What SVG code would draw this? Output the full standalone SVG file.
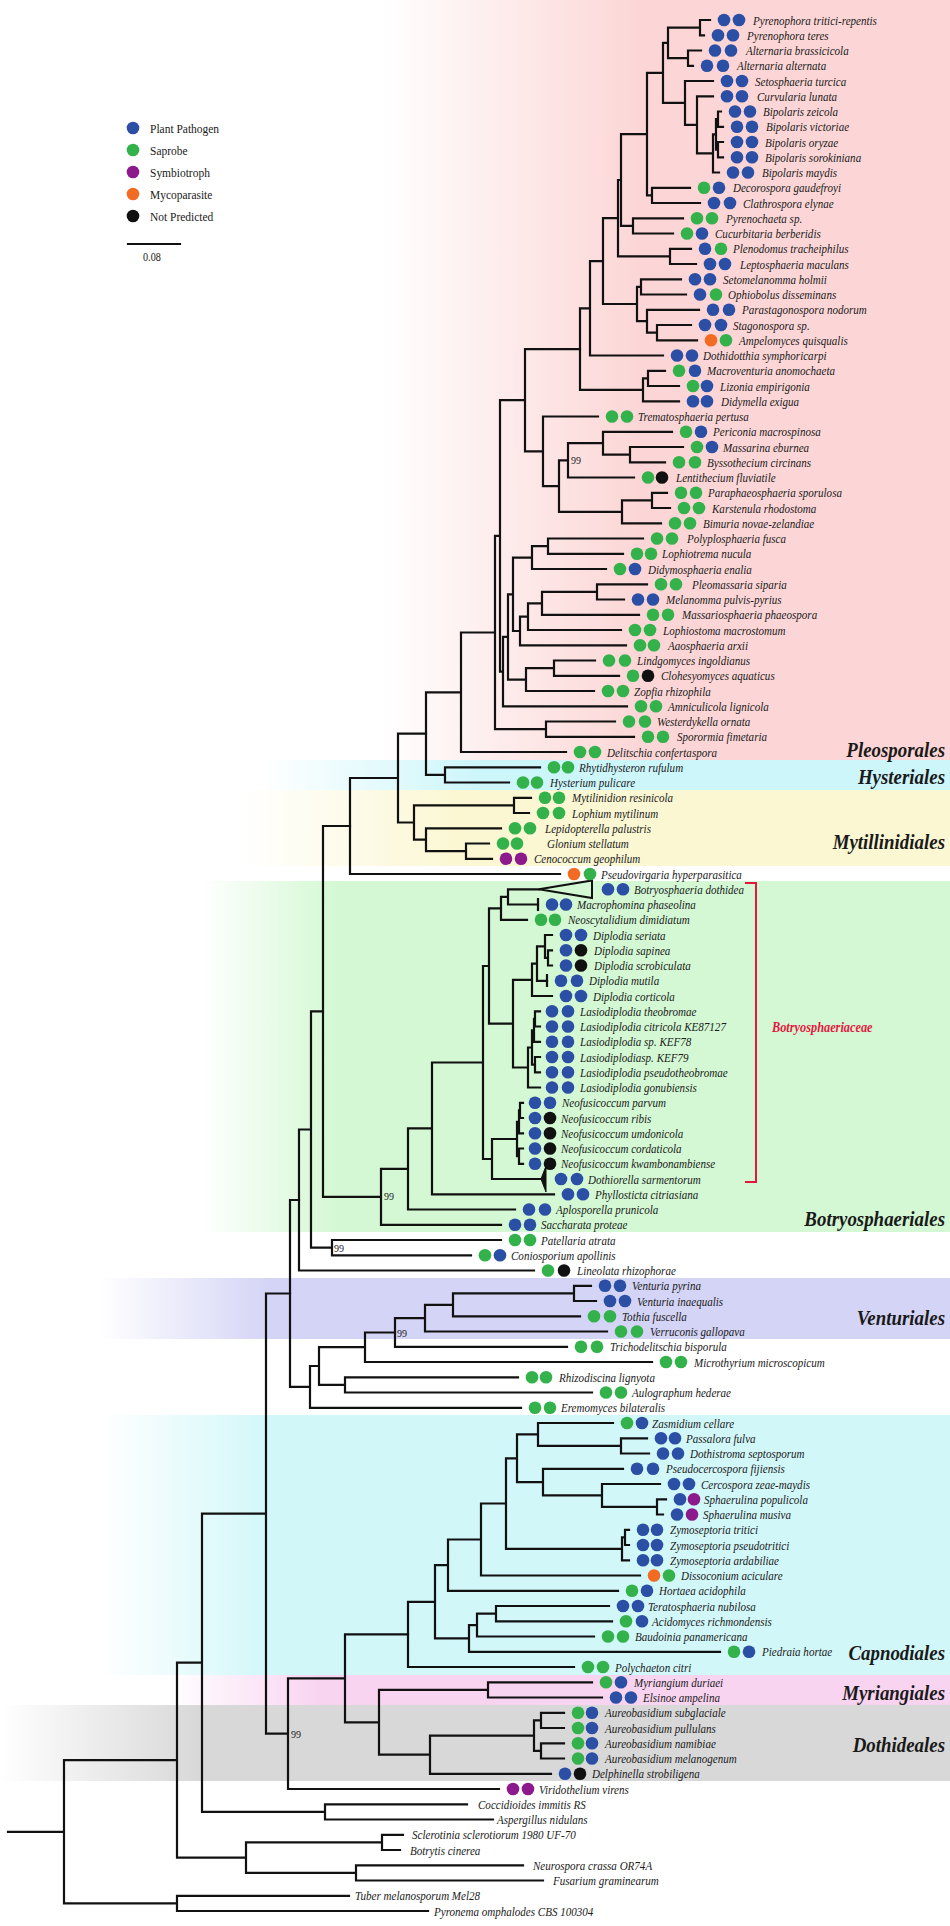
<svg xmlns="http://www.w3.org/2000/svg" width="950" height="1926" viewBox="0 0 950 1926">
<defs>
<style>
.br{fill:none;stroke:#111;stroke-width:2.2;stroke-linecap:square;stroke-linejoin:miter}
.t{font-family:"Liberation Serif","Times New Roman",serif;font-style:italic;font-size:13px;fill:#1a1a1a}
.bs{font-family:"Liberation Serif","Times New Roman",serif;font-size:10px;fill:#222}
.cl{font-family:"Liberation Serif","Times New Roman",serif;font-style:italic;font-weight:bold;font-size:21px;fill:#1a1a1a}
.lg{font-family:"Liberation Serif","Times New Roman",serif;font-size:13.5px;fill:#1a1a1a}
.b{fill:#2c4fa6}.g{fill:#33b24b}.p{fill:#8c1a8c}.o{fill:#f26b22}.k{fill:#111}
</style>
<linearGradient id="gP" gradientUnits="userSpaceOnUse" x1="380" y1="0" x2="640" y2="0"><stop offset="0" stop-color="#fcd6d6" stop-opacity="0"/><stop offset="1" stop-color="#fcd6d6"/></linearGradient>
<linearGradient id="gH" gradientUnits="userSpaceOnUse" x1="260" y1="0" x2="480" y2="0"><stop offset="0" stop-color="#cdf6fa" stop-opacity="0"/><stop offset="1" stop-color="#cdf6fa"/></linearGradient>
<linearGradient id="gM" gradientUnits="userSpaceOnUse" x1="240" y1="0" x2="460" y2="0"><stop offset="0" stop-color="#fbf7d3" stop-opacity="0"/><stop offset="1" stop-color="#fbf7d3"/></linearGradient>
<linearGradient id="gB" gradientUnits="userSpaceOnUse" x1="200" y1="0" x2="340" y2="0"><stop offset="0" stop-color="#d3f8d3" stop-opacity="0"/><stop offset="1" stop-color="#d3f8d3"/></linearGradient>
<linearGradient id="gV" gradientUnits="userSpaceOnUse" x1="100" y1="0" x2="270" y2="0"><stop offset="0" stop-color="#d4d4f6" stop-opacity="0"/><stop offset="1" stop-color="#d4d4f6"/></linearGradient>
<linearGradient id="gC" gradientUnits="userSpaceOnUse" x1="100" y1="0" x2="270" y2="0"><stop offset="0" stop-color="#d2f7f9" stop-opacity="0"/><stop offset="1" stop-color="#d2f7f9"/></linearGradient>
<linearGradient id="gY" gradientUnits="userSpaceOnUse" x1="170" y1="0" x2="320" y2="0"><stop offset="0" stop-color="#f9d4f1" stop-opacity="0"/><stop offset="1" stop-color="#f9d4f1"/></linearGradient>
<linearGradient id="gD" gradientUnits="userSpaceOnUse" x1="0" y1="0" x2="200" y2="0"><stop offset="0" stop-color="#d8d8d8" stop-opacity="0"/><stop offset="1" stop-color="#d8d8d8"/></linearGradient>
</defs>
<rect width="950" height="1926" fill="#fff"/>
<g id="bands">
<rect x="0" y="0" width="950" height="760" fill="url(#gP)"/>
<rect x="0" y="760" width="950" height="30" fill="url(#gH)"/>
<rect x="0" y="790" width="950" height="76" fill="url(#gM)"/>
<rect x="0" y="881" width="950" height="351" fill="url(#gB)"/>
<rect x="0" y="1278" width="950" height="61" fill="url(#gV)"/>
<rect x="0" y="1415" width="950" height="260" fill="url(#gC)"/>
<rect x="0" y="1675" width="950" height="30" fill="url(#gY)"/>
<rect x="0" y="1705" width="950" height="76" fill="url(#gD)"/>
</g>
<g id="legend">
<circle class="b" cx="133" cy="128" r="6.3"/><text class="lg" transform="translate(150 132.5) scale(.85 1)">Plant Pathogen</text>
<circle class="g" cx="133" cy="150" r="6.3"/><text class="lg" transform="translate(150 154.5) scale(.85 1)">Saprobe</text>
<circle class="p" cx="133" cy="172" r="6.3"/><text class="lg" transform="translate(150 176.5) scale(.85 1)">Symbiotroph</text>
<circle class="o" cx="133" cy="194" r="6.3"/><text class="lg" transform="translate(150 198.5) scale(.85 1)">Mycoparasite</text>
<circle class="k" cx="133" cy="216" r="6.3"/><text class="lg" transform="translate(150 220.5) scale(.85 1)">Not Predicted</text>
<path class="br" d="M128 244H180"/>
<text class="lg" transform="translate(143 261) scale(.85 1)" style="font-size:12px">0.08</text>
</g>
<g id="connectors">
<path class="br" d="M710 20H700V35.3H704 M701 50.5H688V65.8H693 M700 27.6H668V58.1H688 M721 111.5H718V126.8H723 M723 142H718V157.3H723 M718 119.1H716V149.6H718 M716 134.4H713V172.5H719 M713 96.3H697V153.4H713 M713 81H685V124.8H697 M668 42.9H663V102.9H685 M690 187.8H652V203H700 M663 72.9H647V195.4H652 M683 218.3H633V233.5H673 M647 134.1H621V225.9H633 M691 248.8H670V264H696 M621 180H618V256.4H670 M681 279.3H641V294.5H686 M691 325H657V340.3H697 M699 309.8H647V332.6H657 M641 286.9H637V321.2H647 M618 218.2H603V304H637 M603 261.1H590V355.5H663 M665 370.8H648V386H679 M648 378.4H643V401.3H679 M590 308.3H580V389.8H643"/>
<path class="br" d="M683 447H630V462.3H665 M672 431.8H603V454.6H630 M603 443.2H568V477.5H634 M667 492.8H652V508H670 M652 500.4H622V523.3H661 M568 460.3H559V511.8H622 M598 416.5H543V486.1H559 M580 349.1H525V451.3H543 M643 538.5H548V553.8H623 M548 546.1H532V569H606 M647 584.3H597V599.5H624 M597 591.9H542V614.8H639 M542 603.3H528V630H621 M528 616.7H520V645.3H626 M532 557.6H513V631H520 M595 660.5H554V675.8H619 M554 668.1H526V691H594 M513 594.3H508V679.6H526 M508 636.9H503V706.3H627 M525 400.2H500V671.6H503 M615 721.5H546V736.8H634 M500 535.9H495V729.1H546 M495 632.5H461V752H566 M540 767.3H445V782.5H509 M461 692.3H426V774.9H445"/>
<path class="br" d="M531 797.8H514V813H529 M489 843.5H466V858.8H492 M501 828.3H426V851.1H466 M514 805.4H414V839.7H426 M426 733.6H398V822.5H414 M398 778H350V874H560"/>
<path class="br" d="M539 889.3H508V904.5H538 M508 896.9H501V919.8H527 M552 950.3H548V965.5H552 M552 935H545V957.9H548 M545 946.4H537V980.8H547 M537 963.6H532V996H552 M540 1011.3H535V1026.5H540 M535 1018.9H534V1041.8H540 M540 1057H535V1072.3H540 M534 1030.3H532V1064.6H535 M532 1047.5H528V1087.5H540 M532 979.8H513V1067.5H528 M501 908.3H489V1023.6H513 M523 1102.8H520V1118H523 M520 1110.4H519V1133.3H523 M523 1148.5H519V1163.8H523 M519 1121.8H517V1156.1H519 M517 1139H492V1179H543 M489 966H483V1159H492 M483 1062.5H432V1194.3H554 M432 1128.4H408V1209.5H515 M408 1168.9H381V1224.8H501 M350 826H323V1196.8H381 M501 1240H332V1255.3H471 M323 1011.4H311V1247.6H332 M311 1129.5H299V1270.5H534"/>
<path class="br" d="M538 899V910 M547 975V986"/>
<polygon points="539,889.3 592,880.5 592,898" fill="none" stroke="#111" stroke-width="2"/>
<polygon points="541,1179 546,1166 546,1192" fill="#111" stroke="#111" stroke-width="1"/>
<path class="br" d="M591 1285.8H574V1301H596 M574 1293.4H453V1316.3H580 M453 1304.8H425V1331.5H607 M425 1318.2H395V1346.8H567 M395 1332.5H365V1362H652 M518 1377.3H345V1392.5H592 M365 1347.2H319V1384.9H345 M319 1366H310V1407.8H521 M299 1200H290V1386.9H310"/>
<path class="br" d="M647 1438.3H621V1453.5H649 M613 1423H538V1445.9H621 M666 1499.3H657V1514.5H663 M660 1484H602V1506.9H657 M623 1468.8H543V1495.4H602 M538 1434.4H517V1482.1H543 M629 1529.8H625V1545H629 M625 1537.4H622V1560.3H629 M517 1458.3H506V1548.8H622 M506 1503.5H481V1575.5H640 M481 1539.5H448V1590.8H618 M609 1606H496V1621.3H612 M496 1613.6H477V1636.5H594 M477 1625.1H469V1651.8H720 M448 1565.1H435V1638.4H469 M435 1601.8H408V1667H574"/>
<path class="br" d="M592 1682.3H488V1697.5H602 M564 1712.8H541V1728H564 M564 1743.3H541V1758.5H564 M541 1720.4H534V1750.9H541 M534 1735.6H430V1773.8H551 M488 1689.9H379V1754.7H430 M408 1634.4H345V1722.3H379 M345 1678.3H288V1789H499 M290 1293.5H266V1733.7H288 M467 1804.3H325V1819.5H493 M266 1513.6H202V1811.9H325 M403 1834.8H382V1850H400 M523 1865.3H356V1880.5H543 M382 1842.4H246V1872.9H356 M202 1662.7H177V1857.6H246 M349 1895.8H177V1911H428 M177 1760.2H64V1903.4H177 M8 1831.8H64"/>
<text class="bs" x="571" y="464">99</text>
<text class="bs" x="384" y="1200">99</text>
<text class="bs" x="334" y="1252">99</text>
<text class="bs" x="397" y="1337">99</text>
<text class="bs" x="291" y="1738">99</text>
</g>
<g id="bracket">
<path d="M745 883H756V1182H745" fill="none" stroke="#e5173f" stroke-width="2"/>
<text class="cl" transform="translate(772 1032) scale(.85 1)" style="fill:#e5173f;font-size:14.5px">Botryosphaeriaceae</text>
</g>
<g id="clades">
<text class="cl" text-anchor="end" transform="translate(945 757) scale(.9 1)">Pleosporales</text>
<text class="cl" text-anchor="end" transform="translate(945 784) scale(.9 1)">Hysteriales</text>
<text class="cl" text-anchor="end" transform="translate(945 849) scale(.9 1)">Mytillinidiales</text>
<text class="cl" text-anchor="end" transform="translate(945 1226) scale(.9 1)">Botryosphaeriales</text>
<text class="cl" text-anchor="end" transform="translate(945 1325) scale(.9 1)">Venturiales</text>
<text class="cl" text-anchor="end" transform="translate(945 1660) scale(.9 1)">Capnodiales</text>
<text class="cl" text-anchor="end" transform="translate(945 1700) scale(.9 1)">Myriangiales</text>
<text class="cl" text-anchor="end" transform="translate(945 1752) scale(.9 1)">Dothideales</text>
</g>
<g id="leaves">
<g id="n1"><circle class="b" cx="724" cy="20" r="6.3"/><circle class="b" cx="739" cy="20" r="6.3"/><text class="t" transform="translate(753 24.5) scale(.85 1)">Pyrenophora tritici-repentis</text></g>
<g id="n2"><circle class="b" cx="718" cy="35.25" r="6.3"/><circle class="b" cx="733" cy="35.25" r="6.3"/><text class="t" transform="translate(747 39.75) scale(.85 1)">Pyrenophora teres</text></g>
<g id="n3"><circle class="b" cx="715" cy="50.5" r="6.3"/><circle class="b" cx="731" cy="50.5" r="6.3"/><text class="t" transform="translate(746 55) scale(.85 1)">Alternaria brassicicola</text></g>
<g id="n4"><circle class="b" cx="707" cy="65.75" r="6.3"/><circle class="b" cx="723" cy="65.75" r="6.3"/><text class="t" transform="translate(737 70.25) scale(.85 1)">Alternaria alternata</text></g>
<g id="n5"><circle class="b" cx="727" cy="81" r="6.3"/><circle class="b" cx="742" cy="81" r="6.3"/><text class="t" transform="translate(755 85.5) scale(.85 1)">Setosphaeria turcica</text></g>
<g id="n6"><circle class="b" cx="727" cy="96.25" r="6.3"/><circle class="b" cx="742" cy="96.25" r="6.3"/><text class="t" transform="translate(757 100.75) scale(.85 1)">Curvularia lunata</text></g>
<g id="n7"><circle class="b" cx="735" cy="111.5" r="6.3"/><circle class="b" cx="750" cy="111.5" r="6.3"/><text class="t" transform="translate(763 116) scale(.85 1)">Bipolaris zeicola</text></g>
<g id="n8"><circle class="b" cx="737" cy="126.75" r="6.3"/><circle class="b" cx="752" cy="126.75" r="6.3"/><text class="t" transform="translate(766 131.25) scale(.85 1)">Bipolaris victoriae</text></g>
<g id="n9"><circle class="b" cx="737" cy="142" r="6.3"/><circle class="b" cx="752" cy="142" r="6.3"/><text class="t" transform="translate(765 146.5) scale(.85 1)">Bipolaris oryzae</text></g>
<g id="n10"><circle class="b" cx="737" cy="157.25" r="6.3"/><circle class="b" cx="752" cy="157.25" r="6.3"/><text class="t" transform="translate(765 161.75) scale(.85 1)">Bipolaris sorokiniana</text></g>
<g id="n11"><circle class="b" cx="733" cy="172.5" r="6.3"/><circle class="b" cx="748" cy="172.5" r="6.3"/><text class="t" transform="translate(762 177) scale(.85 1)">Bipolaris maydis</text></g>
<g id="n12"><circle class="g" cx="704" cy="187.75" r="6.3"/><circle class="b" cx="719" cy="187.75" r="6.3"/><text class="t" transform="translate(733 192.25) scale(.85 1)">Decorospora gaudefroyi</text></g>
<g id="n13"><circle class="b" cx="714" cy="203" r="6.3"/><circle class="b" cx="730" cy="203" r="6.3"/><text class="t" transform="translate(743 207.5) scale(.85 1)">Clathrospora elynae</text></g>
<g id="n14"><circle class="g" cx="697" cy="218.25" r="6.3"/><circle class="g" cx="712" cy="218.25" r="6.3"/><text class="t" transform="translate(726 222.75) scale(.85 1)">Pyrenochaeta sp.</text></g>
<g id="n15"><circle class="g" cx="687" cy="233.5" r="6.3"/><circle class="b" cx="702" cy="233.5" r="6.3"/><text class="t" transform="translate(715 238) scale(.85 1)">Cucurbitaria berberidis</text></g>
<g id="n16"><circle class="b" cx="705" cy="248.75" r="6.3"/><circle class="g" cx="721" cy="248.75" r="6.3"/><text class="t" transform="translate(733 253.25) scale(.85 1)">Plenodomus tracheiphilus</text></g>
<g id="n17"><circle class="b" cx="710" cy="264" r="6.3"/><circle class="b" cx="725" cy="264" r="6.3"/><text class="t" transform="translate(740 268.5) scale(.85 1)">Leptosphaeria maculans</text></g>
<g id="n18"><circle class="b" cx="695" cy="279.25" r="6.3"/><circle class="b" cx="710" cy="279.25" r="6.3"/><text class="t" transform="translate(723 283.75) scale(.85 1)">Setomelanomma holmii</text></g>
<g id="n19"><circle class="b" cx="700" cy="294.5" r="6.3"/><circle class="g" cx="716" cy="294.5" r="6.3"/><text class="t" transform="translate(728 299) scale(.85 1)">Ophiobolus disseminans</text></g>
<g id="n20"><circle class="b" cx="713" cy="309.75" r="6.3"/><circle class="b" cx="729" cy="309.75" r="6.3"/><text class="t" transform="translate(742 314.25) scale(.85 1)">Parastagonospora nodorum</text></g>
<g id="n21"><circle class="b" cx="705" cy="325" r="6.3"/><circle class="b" cx="721" cy="325" r="6.3"/><text class="t" transform="translate(733 329.5) scale(.85 1)">Stagonospora sp.</text></g>
<g id="n22"><circle class="o" cx="711" cy="340.25" r="6.3"/><circle class="g" cx="726" cy="340.25" r="6.3"/><text class="t" transform="translate(739 344.75) scale(.85 1)">Ampelomyces quisqualis</text></g>
<g id="n23"><circle class="b" cx="677" cy="355.5" r="6.3"/><circle class="b" cx="692" cy="355.5" r="6.3"/><text class="t" transform="translate(703 360) scale(.85 1)">Dothidotthia symphoricarpi</text></g>
<g id="n24"><circle class="g" cx="679" cy="370.75" r="6.3"/><circle class="b" cx="695" cy="370.75" r="6.3"/><text class="t" transform="translate(707 375.25) scale(.85 1)">Macroventuria anomochaeta</text></g>
<g id="n25"><circle class="g" cx="693" cy="386" r="6.3"/><circle class="b" cx="707" cy="386" r="6.3"/><text class="t" transform="translate(720 390.5) scale(.85 1)">Lizonia empirigonia</text></g>
<g id="n26"><circle class="b" cx="693" cy="401.25" r="6.3"/><circle class="b" cx="707" cy="401.25" r="6.3"/><text class="t" transform="translate(721 405.75) scale(.85 1)">Didymella exigua</text></g>
<g id="n27"><circle class="g" cx="612" cy="416.5" r="6.3"/><circle class="g" cx="627" cy="416.5" r="6.3"/><text class="t" transform="translate(638 421) scale(.85 1)">Trematosphaeria pertusa</text></g>
<g id="n28"><circle class="g" cx="686" cy="431.75" r="6.3"/><circle class="b" cx="701" cy="431.75" r="6.3"/><text class="t" transform="translate(713 436.25) scale(.85 1)">Periconia macrospinosa</text></g>
<g id="n29"><circle class="g" cx="697" cy="447" r="6.3"/><circle class="b" cx="712" cy="447" r="6.3"/><text class="t" transform="translate(723 451.5) scale(.85 1)">Massarina eburnea</text></g>
<g id="n30"><circle class="g" cx="679" cy="462.25" r="6.3"/><circle class="g" cx="695" cy="462.25" r="6.3"/><text class="t" transform="translate(707 466.75) scale(.85 1)">Byssothecium circinans</text></g>
<g id="n31"><circle class="g" cx="648" cy="477.5" r="6.3"/><circle class="k" cx="662" cy="477.5" r="6.3"/><text class="t" transform="translate(676 482) scale(.85 1)">Lentithecium fluviatile</text></g>
<g id="n32"><circle class="g" cx="681" cy="492.75" r="6.3"/><circle class="g" cx="696" cy="492.75" r="6.3"/><text class="t" transform="translate(708 497.25) scale(.85 1)">Paraphaeosphaeria sporulosa</text></g>
<g id="n33"><circle class="g" cx="684" cy="508" r="6.3"/><circle class="g" cx="699" cy="508" r="6.3"/><text class="t" transform="translate(712 512.5) scale(.85 1)">Karstenula rhodostoma</text></g>
<g id="n34"><circle class="g" cx="675" cy="523.25" r="6.3"/><circle class="g" cx="690" cy="523.25" r="6.3"/><text class="t" transform="translate(703 527.75) scale(.85 1)">Bimuria novae-zelandiae</text></g>
<g id="n35"><circle class="g" cx="657" cy="538.5" r="6.3"/><circle class="g" cx="672" cy="538.5" r="6.3"/><text class="t" transform="translate(687 543) scale(.85 1)">Polyplosphaeria fusca</text></g>
<g id="n36"><circle class="g" cx="637" cy="553.75" r="6.3"/><circle class="g" cx="651" cy="553.75" r="6.3"/><text class="t" transform="translate(662 558.25) scale(.85 1)">Lophiotrema nucula</text></g>
<g id="n37"><circle class="g" cx="620" cy="569" r="6.3"/><circle class="b" cx="635" cy="569" r="6.3"/><text class="t" transform="translate(648 573.5) scale(.85 1)">Didymosphaeria enalia</text></g>
<g id="n38"><circle class="g" cx="661" cy="584.25" r="6.3"/><circle class="g" cx="676" cy="584.25" r="6.3"/><text class="t" transform="translate(692 588.75) scale(.85 1)">Pleomassaria siparia</text></g>
<g id="n39"><circle class="b" cx="638" cy="599.5" r="6.3"/><circle class="b" cx="653" cy="599.5" r="6.3"/><text class="t" transform="translate(666 604) scale(.85 1)">Melanomma pulvis-pyrius</text></g>
<g id="n40"><circle class="g" cx="653" cy="614.75" r="6.3"/><circle class="g" cx="668" cy="614.75" r="6.3"/><text class="t" transform="translate(682 619.25) scale(.85 1)">Massariosphaeria phaeospora</text></g>
<g id="n41"><circle class="g" cx="635" cy="630" r="6.3"/><circle class="g" cx="650" cy="630" r="6.3"/><text class="t" transform="translate(663 634.5) scale(.85 1)">Lophiostoma macrostomum</text></g>
<g id="n42"><circle class="g" cx="640" cy="645.25" r="6.3"/><circle class="g" cx="654" cy="645.25" r="6.3"/><text class="t" transform="translate(668 649.75) scale(.85 1)">Aaosphaeria arxii</text></g>
<g id="n43"><circle class="g" cx="609" cy="660.5" r="6.3"/><circle class="g" cx="625" cy="660.5" r="6.3"/><text class="t" transform="translate(637 665) scale(.85 1)">Lindgomyces ingoldianus</text></g>
<g id="n44"><circle class="g" cx="633" cy="675.75" r="6.3"/><circle class="k" cx="648" cy="675.75" r="6.3"/><text class="t" transform="translate(661 680.25) scale(.85 1)">Clohesyomyces aquaticus</text></g>
<g id="n45"><circle class="g" cx="608" cy="691" r="6.3"/><circle class="g" cx="623" cy="691" r="6.3"/><text class="t" transform="translate(634 695.5) scale(.85 1)">Zopfia rhizophila</text></g>
<g id="n46"><circle class="g" cx="641" cy="706.25" r="6.3"/><circle class="g" cx="656" cy="706.25" r="6.3"/><text class="t" transform="translate(668 710.75) scale(.85 1)">Amniculicola lignicola</text></g>
<g id="n47"><circle class="g" cx="629" cy="721.5" r="6.3"/><circle class="g" cx="645" cy="721.5" r="6.3"/><text class="t" transform="translate(657 726) scale(.85 1)">Westerdykella ornata</text></g>
<g id="n48"><circle class="g" cx="648" cy="736.75" r="6.3"/><circle class="g" cx="663" cy="736.75" r="6.3"/><text class="t" transform="translate(677 741.25) scale(.85 1)">Sporormia fimetaria</text></g>
<g id="n49"><circle class="g" cx="580" cy="752" r="6.3"/><circle class="g" cx="595" cy="752" r="6.3"/><text class="t" transform="translate(607 756.5) scale(.85 1)">Delitschia confertaspora</text></g>
<g id="n50"><circle class="g" cx="554" cy="767.25" r="6.3"/><circle class="g" cx="568" cy="767.25" r="6.3"/><text class="t" transform="translate(579 771.75) scale(.85 1)">Rhytidhysteron rufulum</text></g>
<g id="n51"><circle class="g" cx="523" cy="782.5" r="6.3"/><circle class="g" cx="537" cy="782.5" r="6.3"/><text class="t" transform="translate(550 787) scale(.85 1)">Hysterium pulicare</text></g>
<g id="n52"><circle class="g" cx="545" cy="797.75" r="6.3"/><circle class="g" cx="559" cy="797.75" r="6.3"/><text class="t" transform="translate(572 802.25) scale(.85 1)">Mytilinidion resinicola</text></g>
<g id="n53"><circle class="g" cx="543" cy="813" r="6.3"/><circle class="g" cx="559" cy="813" r="6.3"/><text class="t" transform="translate(572 817.5) scale(.85 1)">Lophium mytilinum</text></g>
<g id="n54"><circle class="g" cx="515" cy="828.25" r="6.3"/><circle class="g" cx="530" cy="828.25" r="6.3"/><text class="t" transform="translate(545 832.75) scale(.85 1)">Lepidopterella palustris</text></g>
<g id="n55"><circle class="g" cx="503" cy="843.5" r="6.3"/><circle class="g" cx="517" cy="843.5" r="6.3"/><text class="t" transform="translate(547 848) scale(.85 1)">Glonium stellatum</text></g>
<g id="n56"><circle class="p" cx="506" cy="858.75" r="6.3"/><circle class="p" cx="521" cy="858.75" r="6.3"/><text class="t" transform="translate(534 863.25) scale(.85 1)">Cenococcum geophilum</text></g>
<g id="n57"><circle class="o" cx="574" cy="874" r="6.3"/><circle class="g" cx="590" cy="874" r="6.3"/><text class="t" transform="translate(601 878.5) scale(.85 1)">Pseudovirgaria hyperparasitica</text></g>
<g id="n58"><circle class="b" cx="608" cy="889.25" r="6.3"/><circle class="b" cx="623" cy="889.25" r="6.3"/><text class="t" transform="translate(634 893.75) scale(.85 1)">Botryosphaeria dothidea</text></g>
<g id="n59"><circle class="b" cx="552" cy="904.5" r="6.3"/><circle class="b" cx="566" cy="904.5" r="6.3"/><text class="t" transform="translate(577 909) scale(.85 1)">Macrophomina phaseolina</text></g>
<g id="n60"><circle class="g" cx="541" cy="919.75" r="6.3"/><circle class="g" cx="555" cy="919.75" r="6.3"/><text class="t" transform="translate(568 924.25) scale(.85 1)">Neoscytalidium dimidiatum</text></g>
<g id="n61"><circle class="b" cx="566" cy="935" r="6.3"/><circle class="b" cx="581" cy="935" r="6.3"/><text class="t" transform="translate(593 939.5) scale(.85 1)">Diplodia seriata</text></g>
<g id="n62"><circle class="b" cx="566" cy="950.25" r="6.3"/><circle class="k" cx="581" cy="950.25" r="6.3"/><text class="t" transform="translate(594 954.75) scale(.85 1)">Diplodia sapinea</text></g>
<g id="n63"><circle class="b" cx="566" cy="965.5" r="6.3"/><circle class="k" cx="581" cy="965.5" r="6.3"/><text class="t" transform="translate(594 970) scale(.85 1)">Diplodia scrobiculata</text></g>
<g id="n64"><circle class="b" cx="561" cy="980.75" r="6.3"/><circle class="b" cx="577" cy="980.75" r="6.3"/><text class="t" transform="translate(589 985.25) scale(.85 1)">Diplodia mutila</text></g>
<g id="n65"><circle class="b" cx="566" cy="996" r="6.3"/><circle class="b" cx="581" cy="996" r="6.3"/><text class="t" transform="translate(593 1000.5) scale(.85 1)">Diplodia corticola</text></g>
<g id="n66"><circle class="b" cx="552" cy="1011.25" r="6.3"/><circle class="b" cx="568" cy="1011.25" r="6.3"/><text class="t" transform="translate(580 1015.75) scale(.85 1)">Lasiodiplodia theobromae</text></g>
<g id="n67"><circle class="b" cx="552" cy="1026.5" r="6.3"/><circle class="b" cx="568" cy="1026.5" r="6.3"/><text class="t" transform="translate(580 1031) scale(.85 1)">Lasiodiplodia citricola KE87127</text></g>
<g id="n68"><circle class="b" cx="552" cy="1041.75" r="6.3"/><circle class="b" cx="568" cy="1041.75" r="6.3"/><text class="t" transform="translate(580 1046.25) scale(.85 1)">Lasiodiplodia sp. KEF78</text></g>
<g id="n69"><circle class="b" cx="552" cy="1057" r="6.3"/><circle class="b" cx="568" cy="1057" r="6.3"/><text class="t" transform="translate(580 1061.5) scale(.85 1)">Lasiodiplodiasp. KEF79</text></g>
<g id="n70"><circle class="b" cx="552" cy="1072.25" r="6.3"/><circle class="b" cx="568" cy="1072.25" r="6.3"/><text class="t" transform="translate(580 1076.75) scale(.85 1)">Lasiodiplodia pseudotheobromae</text></g>
<g id="n71"><circle class="b" cx="552" cy="1087.5" r="6.3"/><circle class="b" cx="568" cy="1087.5" r="6.3"/><text class="t" transform="translate(580 1092) scale(.85 1)">Lasiodiplodia gonubiensis</text></g>
<g id="n72"><circle class="b" cx="535" cy="1102.75" r="6.3"/><circle class="b" cx="550" cy="1102.75" r="6.3"/><text class="t" transform="translate(562 1107.25) scale(.85 1)">Neofusicoccum parvum</text></g>
<g id="n73"><circle class="b" cx="535" cy="1118" r="6.3"/><circle class="k" cx="550" cy="1118" r="6.3"/><text class="t" transform="translate(561 1122.5) scale(.85 1)">Neofusicoccum ribis</text></g>
<g id="n74"><circle class="b" cx="535" cy="1133.25" r="6.3"/><circle class="k" cx="550" cy="1133.25" r="6.3"/><text class="t" transform="translate(561 1137.75) scale(.85 1)">Neofusicoccum umdonicola</text></g>
<g id="n75"><circle class="b" cx="535" cy="1148.5" r="6.3"/><circle class="k" cx="550" cy="1148.5" r="6.3"/><text class="t" transform="translate(561 1153) scale(.85 1)">Neofusicoccum cordaticola</text></g>
<g id="n76"><circle class="b" cx="535" cy="1163.75" r="6.3"/><circle class="k" cx="550" cy="1163.75" r="6.3"/><text class="t" transform="translate(561 1168.25) scale(.85 1)">Neofusicoccum kwambonambiense</text></g>
<g id="n77"><circle class="b" cx="561" cy="1179" r="6.3"/><circle class="b" cx="577" cy="1179" r="6.3"/><text class="t" transform="translate(588 1183.5) scale(.85 1)">Dothiorella sarmentorum</text></g>
<g id="n78"><circle class="b" cx="568" cy="1194.25" r="6.3"/><circle class="b" cx="583" cy="1194.25" r="6.3"/><text class="t" transform="translate(595 1198.75) scale(.85 1)">Phyllosticta citriasiana</text></g>
<g id="n79"><circle class="b" cx="529" cy="1209.5" r="6.3"/><circle class="b" cx="545" cy="1209.5" r="6.3"/><text class="t" transform="translate(556 1214) scale(.85 1)">Aplosporella prunicola</text></g>
<g id="n80"><circle class="b" cx="515" cy="1224.75" r="6.3"/><circle class="b" cx="530" cy="1224.75" r="6.3"/><text class="t" transform="translate(541 1229.25) scale(.85 1)">Saccharata proteae</text></g>
<g id="n81"><circle class="g" cx="515" cy="1240" r="6.3"/><circle class="g" cx="530" cy="1240" r="6.3"/><text class="t" transform="translate(541 1244.5) scale(.85 1)">Patellaria atrata</text></g>
<g id="n82"><circle class="g" cx="485" cy="1255.25" r="6.3"/><circle class="b" cx="500" cy="1255.25" r="6.3"/><text class="t" transform="translate(511 1259.75) scale(.85 1)">Coniosporium apollinis</text></g>
<g id="n83"><circle class="g" cx="548" cy="1270.5" r="6.3"/><circle class="k" cx="564" cy="1270.5" r="6.3"/><text class="t" transform="translate(577 1275) scale(.85 1)">Lineolata rhizophorae</text></g>
<g id="n84"><circle class="b" cx="605" cy="1285.75" r="6.3"/><circle class="b" cx="620" cy="1285.75" r="6.3"/><text class="t" transform="translate(632 1290.25) scale(.85 1)">Venturia pyrina</text></g>
<g id="n85"><circle class="b" cx="610" cy="1301" r="6.3"/><circle class="b" cx="625" cy="1301" r="6.3"/><text class="t" transform="translate(637 1305.5) scale(.85 1)">Venturia inaequalis</text></g>
<g id="n86"><circle class="g" cx="594" cy="1316.25" r="6.3"/><circle class="g" cx="610" cy="1316.25" r="6.3"/><text class="t" transform="translate(622 1320.75) scale(.85 1)">Tothia fuscella</text></g>
<g id="n87"><circle class="g" cx="621" cy="1331.5" r="6.3"/><circle class="g" cx="637" cy="1331.5" r="6.3"/><text class="t" transform="translate(650 1336) scale(.85 1)">Verruconis gallopava</text></g>
<g id="n88"><circle class="g" cx="581" cy="1346.75" r="6.3"/><circle class="g" cx="597" cy="1346.75" r="6.3"/><text class="t" transform="translate(610 1351.25) scale(.85 1)">Trichodelitschia bisporula</text></g>
<g id="n89"><circle class="g" cx="666" cy="1362" r="6.3"/><circle class="g" cx="681" cy="1362" r="6.3"/><text class="t" transform="translate(694 1366.5) scale(.85 1)">Microthyrium microscopicum</text></g>
<g id="n90"><circle class="g" cx="532" cy="1377.25" r="6.3"/><circle class="g" cx="546" cy="1377.25" r="6.3"/><text class="t" transform="translate(559 1381.75) scale(.85 1)">Rhizodiscina lignyota</text></g>
<g id="n91"><circle class="g" cx="606" cy="1392.5" r="6.3"/><circle class="g" cx="621" cy="1392.5" r="6.3"/><text class="t" transform="translate(632 1397) scale(.85 1)">Aulographum hederae</text></g>
<g id="n92"><circle class="g" cx="535" cy="1407.75" r="6.3"/><circle class="g" cx="550" cy="1407.75" r="6.3"/><text class="t" transform="translate(561 1412.25) scale(.85 1)">Eremomyces bilateralis</text></g>
<g id="n93"><circle class="g" cx="627" cy="1423" r="6.3"/><circle class="b" cx="642" cy="1423" r="6.3"/><text class="t" transform="translate(652 1427.5) scale(.85 1)">Zasmidium cellare</text></g>
<g id="n94"><circle class="b" cx="661" cy="1438.25" r="6.3"/><circle class="b" cx="675" cy="1438.25" r="6.3"/><text class="t" transform="translate(686 1442.75) scale(.85 1)">Passalora fulva</text></g>
<g id="n95"><circle class="b" cx="663" cy="1453.5" r="6.3"/><circle class="b" cx="678" cy="1453.5" r="6.3"/><text class="t" transform="translate(690 1458) scale(.85 1)">Dothistroma septosporum</text></g>
<g id="n96"><circle class="b" cx="637" cy="1468.75" r="6.3"/><circle class="b" cx="653" cy="1468.75" r="6.3"/><text class="t" transform="translate(666 1473.25) scale(.85 1)">Pseudocercospora fijiensis</text></g>
<g id="n97"><circle class="b" cx="674" cy="1484" r="6.3"/><circle class="b" cx="689" cy="1484" r="6.3"/><text class="t" transform="translate(701 1488.5) scale(.85 1)">Cercospora zeae-maydis</text></g>
<g id="n98"><circle class="b" cx="680" cy="1499.25" r="6.3"/><circle class="p" cx="694" cy="1499.25" r="6.3"/><text class="t" transform="translate(704 1503.75) scale(.85 1)">Sphaerulina populicola</text></g>
<g id="n99"><circle class="b" cx="677" cy="1514.5" r="6.3"/><circle class="p" cx="692" cy="1514.5" r="6.3"/><text class="t" transform="translate(703 1519) scale(.85 1)">Sphaerulina musiva</text></g>
<g id="n100"><circle class="b" cx="643" cy="1529.75" r="6.3"/><circle class="b" cx="657" cy="1529.75" r="6.3"/><text class="t" transform="translate(670 1534.25) scale(.85 1)">Zymoseptoria tritici</text></g>
<g id="n101"><circle class="b" cx="643" cy="1545" r="6.3"/><circle class="b" cx="657" cy="1545" r="6.3"/><text class="t" transform="translate(670 1549.5) scale(.85 1)">Zymoseptoria pseudotritici</text></g>
<g id="n102"><circle class="b" cx="643" cy="1560.25" r="6.3"/><circle class="b" cx="657" cy="1560.25" r="6.3"/><text class="t" transform="translate(670 1564.75) scale(.85 1)">Zymoseptoria ardabiliae</text></g>
<g id="n103"><circle class="o" cx="654" cy="1575.5" r="6.3"/><circle class="g" cx="669" cy="1575.5" r="6.3"/><text class="t" transform="translate(681 1580) scale(.85 1)">Dissoconium aciculare</text></g>
<g id="n104"><circle class="g" cx="632" cy="1590.75" r="6.3"/><circle class="b" cx="647" cy="1590.75" r="6.3"/><text class="t" transform="translate(659 1595.25) scale(.85 1)">Hortaea acidophila</text></g>
<g id="n105"><circle class="b" cx="623" cy="1606" r="6.3"/><circle class="b" cx="638" cy="1606" r="6.3"/><text class="t" transform="translate(648 1610.5) scale(.85 1)">Teratosphaeria nubilosa</text></g>
<g id="n106"><circle class="g" cx="626" cy="1621.25" r="6.3"/><circle class="b" cx="642" cy="1621.25" r="6.3"/><text class="t" transform="translate(652 1625.75) scale(.85 1)">Acidomyces richmondensis</text></g>
<g id="n107"><circle class="g" cx="608" cy="1636.5" r="6.3"/><circle class="g" cx="623" cy="1636.5" r="6.3"/><text class="t" transform="translate(635 1641) scale(.85 1)">Baudoinia panamericana</text></g>
<g id="n108"><circle class="g" cx="734" cy="1651.75" r="6.3"/><circle class="b" cx="749" cy="1651.75" r="6.3"/><text class="t" transform="translate(762 1656.25) scale(.85 1)">Piedraia hortae</text></g>
<g id="n109"><circle class="g" cx="588" cy="1667" r="6.3"/><circle class="g" cx="603" cy="1667" r="6.3"/><text class="t" transform="translate(615 1671.5) scale(.85 1)">Polychaeton citri</text></g>
<g id="n110"><circle class="g" cx="606" cy="1682.25" r="6.3"/><circle class="b" cx="621" cy="1682.25" r="6.3"/><text class="t" transform="translate(634 1686.75) scale(.85 1)">Myriangium duriaei</text></g>
<g id="n111"><circle class="b" cx="616" cy="1697.5" r="6.3"/><circle class="b" cx="631" cy="1697.5" r="6.3"/><text class="t" transform="translate(643 1702) scale(.85 1)">Elsinoe ampelina</text></g>
<g id="n112"><circle class="g" cx="578" cy="1712.75" r="6.3"/><circle class="b" cx="592" cy="1712.75" r="6.3"/><text class="t" transform="translate(605 1717.25) scale(.85 1)">Aureobasidium subglaciale</text></g>
<g id="n113"><circle class="g" cx="578" cy="1728" r="6.3"/><circle class="b" cx="592" cy="1728" r="6.3"/><text class="t" transform="translate(605 1732.5) scale(.85 1)">Aureobasidium pullulans</text></g>
<g id="n114"><circle class="g" cx="578" cy="1743.25" r="6.3"/><circle class="b" cx="592" cy="1743.25" r="6.3"/><text class="t" transform="translate(605 1747.75) scale(.85 1)">Aureobasidium namibiae</text></g>
<g id="n115"><circle class="g" cx="578" cy="1758.5" r="6.3"/><circle class="b" cx="592" cy="1758.5" r="6.3"/><text class="t" transform="translate(605 1763) scale(.85 1)">Aureobasidium melanogenum</text></g>
<g id="n116"><circle class="b" cx="565" cy="1773.75" r="6.3"/><circle class="k" cx="580" cy="1773.75" r="6.3"/><text class="t" transform="translate(592 1778.25) scale(.85 1)">Delphinella strobiligena</text></g>
<g id="n117"><circle class="p" cx="513" cy="1789" r="6.3"/><circle class="p" cx="528" cy="1789" r="6.3"/><text class="t" transform="translate(539 1793.5) scale(.85 1)">Viridothelium virens</text></g>
<g id="n118"><text class="t" transform="translate(478 1808.75) scale(.85 1)">Coccidioides immitis RS</text></g>
<g id="n119"><text class="t" transform="translate(497 1824) scale(.85 1)">Aspergillus nidulans</text></g>
<g id="n120"><text class="t" transform="translate(412 1839.25) scale(.85 1)">Sclerotinia sclerotiorum 1980 UF-70</text></g>
<g id="n121"><text class="t" transform="translate(410 1854.5) scale(.85 1)">Botrytis cinerea</text></g>
<g id="n122"><text class="t" transform="translate(533 1869.75) scale(.85 1)">Neurospora crassa OR74A</text></g>
<g id="n123"><text class="t" transform="translate(553 1885) scale(.85 1)">Fusarium graminearum</text></g>
<g id="n124"><text class="t" transform="translate(355 1900.25) scale(.85 1)">Tuber melanosporum Mel28</text></g>
<g id="n125"><text class="t" transform="translate(434 1915.5) scale(.85 1)">Pyronema omphalodes CBS 100304</text></g>
</g>
</svg>
